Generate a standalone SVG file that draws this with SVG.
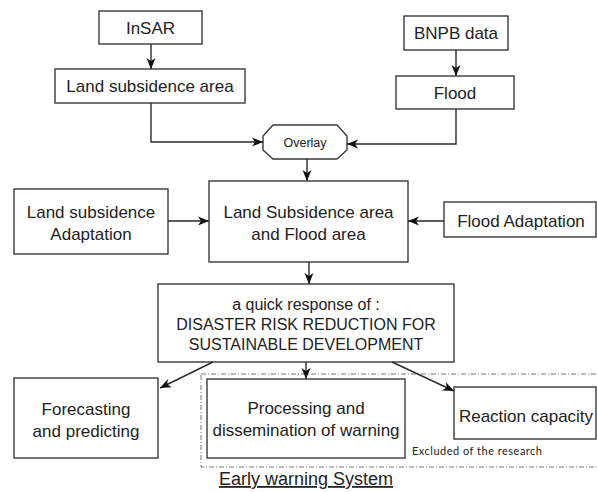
<svg xmlns="http://www.w3.org/2000/svg" width="597" height="492" viewBox="0 0 597 492">
<style>
.box{fill:#fff;stroke:#3a3a3a;stroke-width:1.4}
.t{font-family:"Liberation Sans",Arial,sans-serif;font-size:17px;fill:#222;text-anchor:middle}
.s16{font-size:16px}
.c{fill:none;stroke:#2a2a2a;stroke-width:1.4}
.dash{fill:none;stroke:#666;stroke-width:0.9;stroke-dasharray:5,2,1,2}
</style>
<defs>
<marker id="ah" markerUnits="userSpaceOnUse" markerWidth="12" markerHeight="10" refX="11" refY="5" orient="auto">
<path d="M0,0.5 L11,5 L0,9.5 L3,5 z" fill="#111"/>
</marker>
</defs>
<rect class="dash" x="201" y="374" width="400" height="93"/>
<g id="insar"><rect class="box" x="99" y="11" width="103" height="33"/><text class="t" x="150.5" y="33.5">InSAR</text></g>
<g id="lsa"><rect class="box" x="55" y="69" width="190" height="34"/><text class="t" x="150" y="92">Land subsidence area</text></g>
<g id="bnpb"><rect class="box" x="404" y="16" width="104" height="34"/><text class="t" x="456" y="39">BNPB data</text></g>
<g id="flood"><rect class="box" x="396" y="76" width="118" height="33"/><text class="t" x="455" y="98.5">Flood</text></g>
<g id="overlay"><polygon class="box" points="273,125 337,125 347,136 347,150 337,159 273,159 263,150 263,136"/><text class="t" style="font-size:12.5px" x="305" y="147">Overlay</text></g>
<g id="center"><rect class="box" x="209" y="181" width="199" height="81"/><text class="t" x="308.5" y="218">Land Subsidence area</text><text class="t" x="308.5" y="240">and Flood area</text></g>
<g id="lsadapt"><rect class="box" x="14" y="189" width="154" height="65"/><text class="t" x="91" y="218">Land subsidence</text><text class="t" x="91" y="240">Adaptation</text></g>
<g id="floodadapt"><rect class="box" x="444" y="202" width="152" height="35"/><text class="t" x="521" y="227">Flood Adaptation</text></g>
<g id="quick"><rect class="box" x="158" y="284" width="296" height="78"/><text class="t s16" x="306" y="310">a quick response of :</text><text class="t s16" x="306" y="330">DISASTER RISK REDUCTION FOR</text><text class="t s16" x="306" y="350">SUSTAINABLE DEVELOPMENT</text></g>
<g id="forecast"><rect class="box" x="14" y="378" width="144" height="80"/><text class="t" x="86" y="415">Forecasting</text><text class="t" x="86" y="437">and predicting</text></g>
<g id="processing"><rect class="box" x="207" y="379" width="198" height="79"/><text class="t" x="306" y="414">Processing and</text><text class="t" x="306" y="436">dissemination of warning</text></g>
<g id="reaction"><rect class="box" x="454" y="387" width="142" height="52"/><text class="t" x="526" y="422">Reaction capacity</text></g>
<g id="labels">
<text x="412" y="455" style="font-family:Lato,'Open Sans',sans-serif;font-size:11px;fill:#222" textLength="130">Excluded of the research</text>
<text class="t" style="font-size:18px;text-decoration:underline" x="306" y="485">Early warning System</text>
</g>
<g id="connectors">
<path class="c" d="M151,44 V69" marker-end="url(#ah)"/>
<path class="c" d="M456,50 V76" marker-end="url(#ah)"/>
<path class="c" d="M151,103 V142 H263" marker-end="url(#ah)"/>
<path class="c" d="M456,109 V144 H347" marker-end="url(#ah)"/>
<path class="c" d="M307,159 V181" marker-end="url(#ah)"/>
<path class="c" d="M168,221 H209" marker-end="url(#ah)"/>
<path class="c" d="M444,221 H408" marker-end="url(#ah)"/>
<path class="c" d="M309,262 V284" marker-end="url(#ah)"/>
<path class="c" d="M213,362 L160,388" marker-end="url(#ah)"/>
<path class="c" d="M306,362 V379" marker-end="url(#ah)"/>
<path class="c" d="M392,362 L454,391" marker-end="url(#ah)"/>
</g>
</svg>
